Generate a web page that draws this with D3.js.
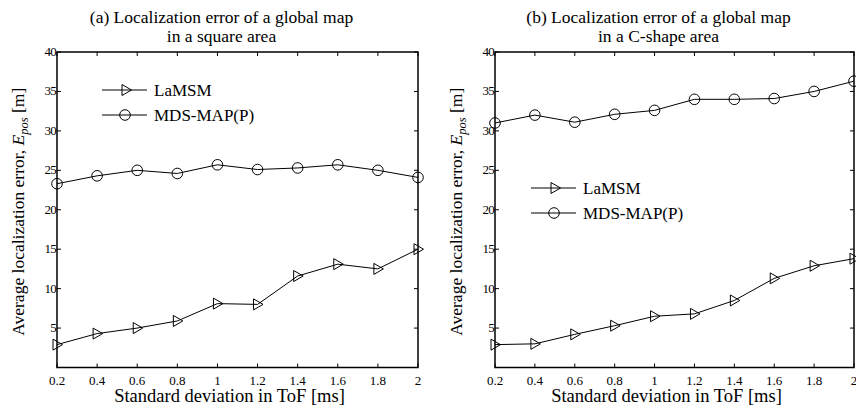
<!DOCTYPE html>
<html><head><meta charset="utf-8">
<script src="https://cdn.jsdelivr.net/npm/d3@7"></script>
<style>body{margin:0;background:#fff}svg{display:block}</style>
</head><body>
<script>
const xValues = [0.2,0.4,0.6,0.8,1.0,1.2,1.4,1.6,1.8,2.0];
const xTicks = [0.2,0.4,0.6,0.8,1,1.2,1.4,1.6,1.8,2];
const yTicks = [5,10,15,20,25,30,35,40];
const seriesNames = ["LaMSM","MDS-MAP(P)"];
const squareLaMSM = [2.9,4.3,5.0,5.9,8.1,8.0,11.6,13.1,12.5,15.0];
const squareMDS = [23.3,24.3,25.0,24.6,25.7,25.1,25.3,25.7,25.0,24.1];
const cshapeLaMSM = [2.9,3.0,4.2,5.3,6.5,6.8,8.5,11.3,12.9,13.8];
const cshapeMDS = [31.0,32.0,31.1,32.1,32.6,34.0,34.0,34.1,35.0,36.3];
const titlesA = ["(a) Localization error of a global map","in a square area"];
const titlesB = ["(b) Localization error of a global map","in a C-shape area"];

const W=856,H=407;
const svg=d3.select("body").append("svg").attr("width",W).attr("height",H);
const font="Liberation Serif";

function panel(x0,x1,titles,lam,mds,legendPos){
  const y0=52,y1=367.5;
  const x=d3.scaleLinear().domain([0.2,2]).range([x0,x1]);
  const y=d3.scaleLinear().domain([0,40]).range([y1,y0]);
  const g=svg.append("g");
  const tl=4;
  xTicks.forEach(t=>{
    g.append("line").attr("x1",x(t)).attr("x2",x(t)).attr("y1",y1).attr("y2",y1-tl).attr("stroke","#000");
    g.append("line").attr("x1",x(t)).attr("x2",x(t)).attr("y1",y0).attr("y2",y0+tl).attr("stroke","#000");
    g.append("text").attr("x",x(t)).attr("y",y1+17).attr("text-anchor","middle")
      .attr("font-family",font).attr("font-size",13).text(t);
  });
  yTicks.forEach(t=>{
    g.append("line").attr("x1",x0).attr("x2",x0+tl).attr("y1",y(t)).attr("y2",y(t)).attr("stroke","#000");
    g.append("line").attr("x1",x1).attr("x2",x1-tl).attr("y1",y(t)).attr("y2",y(t)).attr("stroke","#000");
    g.append("text").attr("x",x0-1).attr("y",y(t)+4).attr("text-anchor","end")
      .attr("font-family",font).attr("font-size",13).attr("letter-spacing",-0.8).text(t);
  });
  g.append("rect").attr("x",x0).attr("y",y0).attr("width",x1-x0).attr("height",y1-y0)
    .attr("fill","none").attr("stroke","#000").attr("stroke-width",1.5);
  const cx=(x0+x1)/2;
  titles.forEach((t,i)=>g.append("text").attr("x",cx-16).attr("y",23+i*19).attr("text-anchor","middle")
    .attr("font-family",font).attr("font-size",17.5).text(t));
  g.append("text").attr("x",cx-8).attr("y",402).attr("text-anchor","middle")
    .attr("font-family",font).attr("font-size",18.5).text("Standard deviation in ToF [ms]");
  const yl=g.append("text").attr("transform",`translate(${x0-33},${(y0+y1)/2+2}) rotate(-90)`)
    .attr("text-anchor","middle").attr("font-family",font).attr("font-size",17.5);
  yl.append("tspan").text("Average localization error, ");
  yl.append("tspan").attr("font-style","italic").text("E");
  yl.append("tspan").attr("font-style","italic").attr("font-size",12.5).attr("dy",4).text("pos");
  yl.append("tspan").attr("dy",-4).text(" [m]");

  const line=d3.line().x((d,i)=>x(xValues[i])).y(d=>y(d));
  const tri="M-4,-5.5L5.5,0L-4,5.5Z";
  function drawSeries(vals,type){
    g.append("path").datum(vals).attr("d",line).attr("fill","none").attr("stroke","#000").attr("stroke-width",1);
    vals.forEach((v,i)=>{
      if(type==="tri") g.append("path").attr("d",tri).attr("transform",`translate(${x(xValues[i])},${y(v)})`)
        .attr("fill","none").attr("stroke","#000");
      else g.append("circle").attr("cx",x(xValues[i])).attr("cy",y(v)).attr("r",5.3)
        .attr("fill","none").attr("stroke","#000");
    });
  }
  drawSeries(lam,"tri");
  drawSeries(mds,"circ");
  const [lx,ly]=legendPos;
  seriesNames.forEach((n,i)=>{
    const yy=ly+i*25;
    g.append("line").attr("x1",lx).attr("x2",lx+45).attr("y1",yy).attr("y2",yy).attr("stroke","#000");
    if(i===0) g.append("path").attr("d",tri).attr("transform",`translate(${lx+24},${yy})`).attr("fill","none").attr("stroke","#000");
    else g.append("circle").attr("cx",lx+23).attr("cy",yy).attr("r",5.3).attr("fill","none").attr("stroke","#000");
    g.append("text").attr("x",lx+52).attr("y",yy+5.5).attr("font-family",font).attr("font-size",17).text(n);
  });
}
panel(57,418,titlesA,squareLaMSM,squareMDS,[102,90]);
panel(495,854,titlesB,cshapeLaMSM,cshapeMDS,[531,188]);
</script>
</body></html>
